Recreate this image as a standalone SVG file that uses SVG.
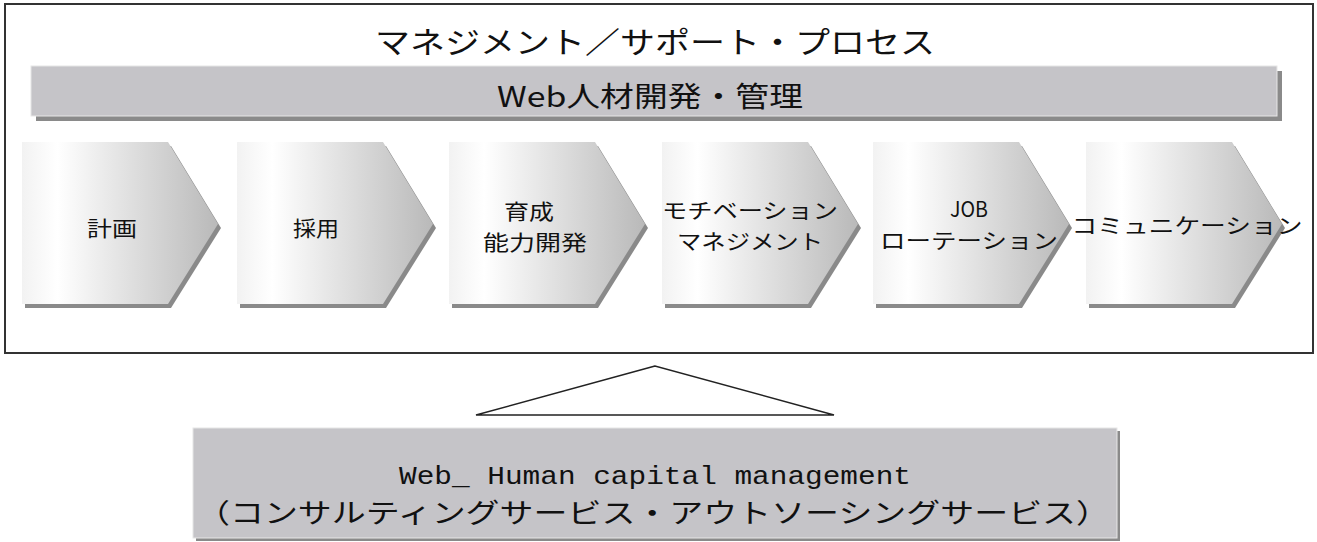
<svg xmlns="http://www.w3.org/2000/svg" width="1317" height="542" viewBox="0 0 1317 542">
<style>
.jp{font-family:"Noto Sans CJK JP","Noto Sans",sans-serif;fill:#111;}
.lbl{font-size:21px;text-anchor:middle;}
.shadow{fill:#8a8a8a;}
.bar{fill:#c5c4c8;}
.chev{fill:url(#cg);}
</style>
<defs>
<linearGradient id="cg" x1="0" y1="0" x2="1" y2="0">
<stop offset="0" stop-color="#f2f2f2"/>
<stop offset="0.18" stop-color="#ffffff"/>
<stop offset="1" stop-color="#b9b9b9"/>
</linearGradient>
<polygon id="chevShape" points="0,0 146,0 196,82 146,162 0,162"/>
</defs>
<rect id="frame" x="5" y="4" width="1308" height="349" fill="#fff" stroke="#333" stroke-width="2"/>
<g id="title">
<text class="jp" x="375" y="53" font-size="30" textLength="560" lengthAdjust="spacingAndGlyphs">マネジメント／サポート・プロセス</text>
</g>
<g id="bar">
<rect class="shadow" x="36" y="71" width="1246" height="50"/>
<rect class="bar" x="31" y="66" width="1246" height="50" stroke="#e6e6e6" stroke-width="1"/>
<text class="jp" x="497" y="107" font-size="28" textLength="306" lengthAdjust="spacingAndGlyphs">Web人材開発・管理</text>
</g>
<g id="step1">
<use href="#chevShape" x="25" y="146" class="shadow"/>
<use href="#chevShape" x="22" y="142" class="chev"/>
<text class="jp lbl" x="112" y="236" textLength="50" lengthAdjust="spacingAndGlyphs">計画</text>
</g>
<g id="step2">
<use href="#chevShape" x="240" y="146" class="shadow"/>
<use href="#chevShape" x="237" y="142" class="chev"/>
<text class="jp lbl" x="316" y="236" textLength="46" lengthAdjust="spacingAndGlyphs">採用</text>
</g>
<g id="step3">
<use href="#chevShape" x="452" y="146" class="shadow"/>
<use href="#chevShape" x="449" y="142" class="chev"/>
<text class="jp lbl" x="529" y="219" textLength="50" lengthAdjust="spacingAndGlyphs">育成</text>
<text class="jp lbl" x="535" y="250" textLength="104" lengthAdjust="spacingAndGlyphs">能力開発</text>
</g>
<g id="step4">
<use href="#chevShape" x="665" y="146" class="shadow"/>
<use href="#chevShape" x="662" y="142" class="chev"/>
<text class="jp lbl" x="750" y="218" textLength="176" lengthAdjust="spacingAndGlyphs">モチベーション</text>
<text class="jp lbl" x="750" y="249" textLength="146" lengthAdjust="spacingAndGlyphs">マネジメント</text>
</g>
<g id="step5">
<use href="#chevShape" x="876" y="146" class="shadow"/>
<use href="#chevShape" x="873" y="142" class="chev"/>
<text class="jp lbl" x="969" y="217" textLength="38" lengthAdjust="spacingAndGlyphs">JOB</text>
<text class="jp lbl" x="969" y="248" textLength="178" lengthAdjust="spacingAndGlyphs">ローテーション</text>
</g>
<g id="step6">
<use href="#chevShape" x="1089" y="146" class="shadow"/>
<use href="#chevShape" x="1086" y="142" class="chev"/>
<text class="jp lbl" x="1187" y="233" textLength="231" lengthAdjust="spacingAndGlyphs">コミュニケーション</text>
</g>
<g id="connectors">
<polygon points="655,366 476,415 834,415" fill="#fff" stroke="#222" stroke-width="1.5"/>
</g>
<g id="base">
<rect class="shadow" x="196" y="431" width="924" height="110"/>
<rect class="bar" x="193" y="428" width="924" height="110" stroke="#e6e6e6" stroke-width="1"/>
<text x="399" y="484" font-family="Liberation Mono, monospace" font-size="26" fill="#111" textLength="512" lengthAdjust="spacingAndGlyphs">Web_ Human capital management</text>
<text class="jp" x="196" y="523" font-size="27" textLength="914" lengthAdjust="spacingAndGlyphs">（コンサルティングサービス・アウトソーシングサービス）</text>
</g>
</svg>
